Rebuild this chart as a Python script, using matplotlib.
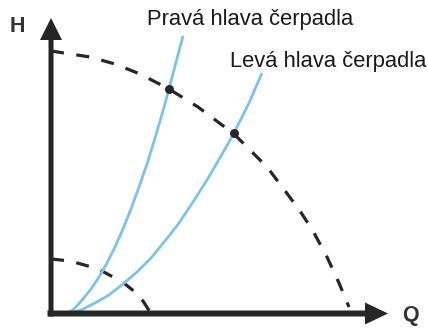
import matplotlib
matplotlib.use("Agg")
import matplotlib.pyplot as plt

plt.rcParams['font.family'] = ['Liberation Sans', 'DejaVu Sans']
plt.rcParams['lines.scale_dashes'] = False

# Pump head curves (dashed): flow Q, head H
pump_big_q = [0, 39, 64, 89, 118, 147, 183, 216, 232, 249, 262, 276, 288, 298]
pump_big_h = [263, 257, 250, 240, 225, 207, 180, 147, 126, 103, 83, 57, 31, 7]

pump_small_q = [0, 19, 37, 51, 62, 74, 84, 92, 99]
pump_small_h = [55, 53, 48, 43, 37, 30, 22, 13, 2]

# System curves (blue)
right_q = [16, 24, 32, 40, 48, 56, 64, 72, 80, 88, 96, 104, 112, 118, 124, 132]
right_h = [0, 6, 15, 25, 37, 51, 67, 85, 105, 127, 150, 176, 203, 225, 248, 278]

left_q = [16, 30, 44, 58, 72, 86, 100, 114, 128, 142, 156, 170, 183, 198, 211]
left_h = [0, 4, 11, 19, 30, 42, 56, 73, 91, 112, 134, 158, 181, 211, 241]

# Operating points
op_q = [118, 183]
op_h = [225, 181]

labels = ["Pravá hlava čerpadla", "Levá hlava čerpadla"]
axis_labels = ["H", "Q"]

dark = '#262626'
blue = '#7dc3e8'

fig = plt.figure(figsize=(4.28, 3.29), dpi=100)
ax = fig.add_axes([0, 0, 1, 1])
ax.set_xlim(-51, 377)
ax.set_ylim(-15, 314)
ax.axis('off')

dash = (0, (9.4, 9.0))
ax.plot(pump_big_q, pump_big_h, color=dark, lw=2.3, linestyle=dash, zorder=2)
ax.plot(pump_small_q, pump_small_h, color=dark, lw=2.3, linestyle=dash, zorder=2)

ax.plot(right_q, right_h, color=blue, lw=2.0, zorder=3, solid_capstyle='butt',
        solid_joinstyle='round')
ax.plot(left_q, left_h, color=blue, lw=2.0, zorder=3, solid_capstyle='butt',
        solid_joinstyle='round')

ax.scatter(op_q, op_h, s=42, color=dark, zorder=4, linewidths=0)

# Axes arrows
ax.arrow(0, -2.5, 0, 298.5, width=5, head_width=22, head_length=22,
         length_includes_head=True, color=dark, zorder=5, linewidth=0)
ax.arrow(-3.5, 0.5, 340.5, 0, width=6, head_width=22, head_length=23,
         length_includes_head=True, color=dark, zorder=5, linewidth=0)

ax.text(96, 289, labels[0], fontsize=15.8, color='#1a1a1a', ha='left', va='baseline')
ax.text(179, 247, labels[1], fontsize=15.8, color='#1a1a1a', ha='left', va='baseline')

ax.text(-33.5, 287, axis_labels[0], fontsize=15.5, fontweight='bold', color='#333333',
        ha='center', va='center')
ax.text(359, -1, axis_labels[1], fontsize=15.5, fontweight='bold', color='#333333',
        ha='center', va='center')

fig.savefig('out.png', dpi=100)
